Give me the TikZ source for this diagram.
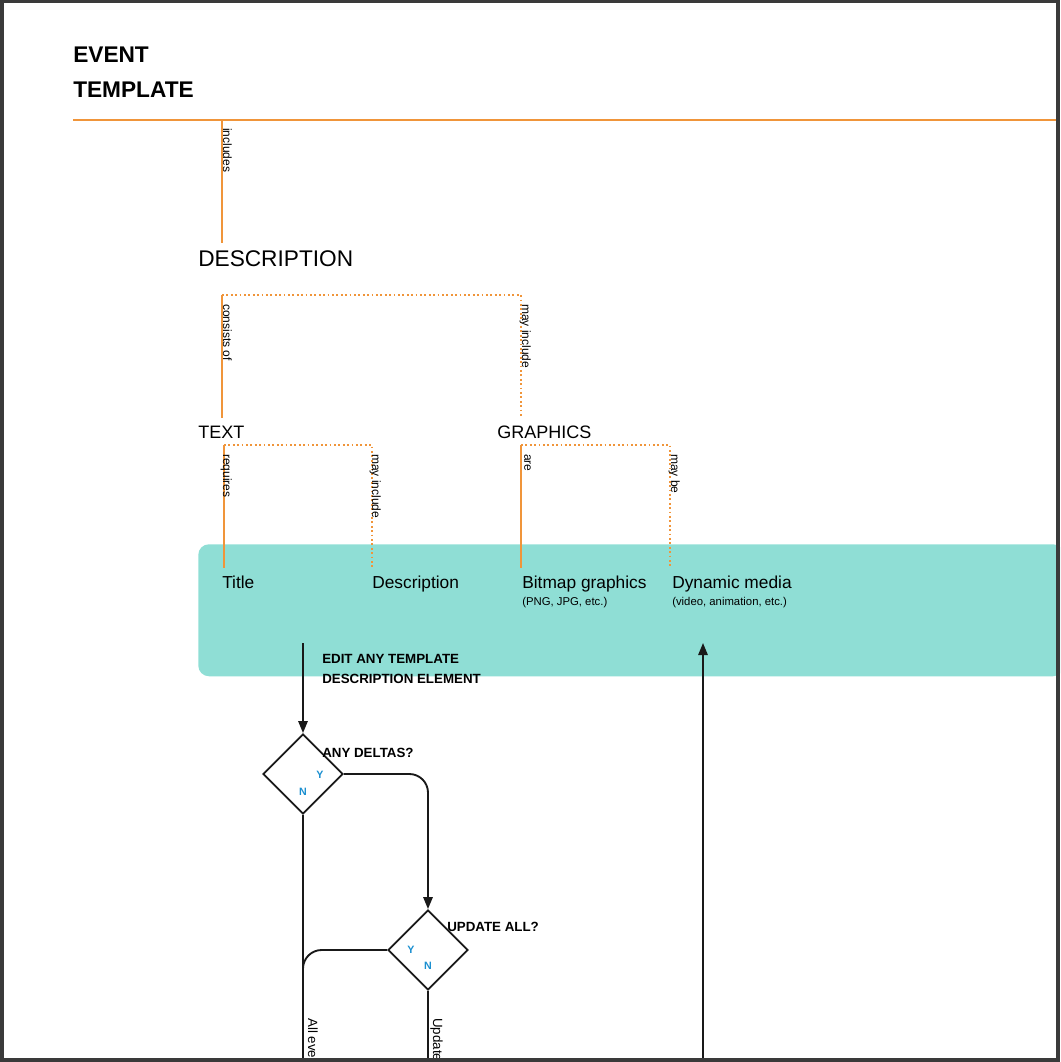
\documentclass[tikz,border=0pt]{standalone}
\usepackage{fontspec}
\setmainfont{Liberation Sans}
\usepackage{xcolor}
\usetikzlibrary{shapes.geometric,arrows.meta}
\definecolor{rule}{HTML}{F0953A}
\definecolor{teal}{HTML}{8FDED5}
\definecolor{yn}{HTML}{1A8FD0}
\definecolor{frame}{HTML}{3A3A3A}

\begin{document}
\begin{tikzpicture}[x=0.75pt,y=-0.75pt,
    link/.style={draw=rule, line width=1.5pt},
    maybe/.style={draw=rule, line width=1.3pt, dotted},
    verb/.style={rotate=-90, anchor=north west, font=\fontsize{9}{10}\selectfont, inner sep=0pt},
    big/.style={anchor=base west, inner sep=0pt, font=\fontsize{17}{20}\selectfont},
    mid/.style={anchor=base west, inner sep=0pt, font=\fontsize{13.5}{16}\selectfont},
    item/.style={anchor=base west, inner sep=0pt, font=\fontsize{13}{15}\selectfont},
    sub/.style={anchor=base west, inner sep=0pt, font=\fontsize{8.5}{10}\selectfont},
    todo/.style={anchor=base west, inner sep=0pt, font=\bfseries\fontsize{10}{15}\selectfont, align=left},
    flow/.style={draw=black!90, line width=1.4pt, rounded corners=14},
    decide/.style={diamond, draw=black!90, line width=1.4pt, fill=white, minimum width=60, minimum height=60, inner sep=0pt},
    yes/.style={font=\bfseries\fontsize{8}{9}\selectfont, text=yn, inner sep=0pt},
    tip/.style={-{Triangle[length=9pt,width=7pt]}}]
\useasboundingbox (0,0) rectangle (1060,1062);
\begin{scope}
\clip (0,0) rectangle (1060,1062);

% Header
\node[anchor=base west, inner sep=0pt, font=\bfseries\fontsize{17}{20}\selectfont] (ev) at (73,63) {EVENT};
\node[anchor=base west, inner sep=0pt, font=\bfseries\fontsize{17}{20}\selectfont] (tp) at (73,98) {TEMPLATE};
\coordinate (hl) at (73,120);
\coordinate (hr) at (1060,120);
\draw[link] (hl) -- (hr);

% Description
\coordinate (inc) at (222,120);
\node[big] (desc) at (198,267) {DESCRIPTION};
\coordinate (descb) at (222,243);
\draw[link] (inc) -- (descb);
\node[verb] at (232,128) {includes};

% Text / graphics
\node[mid] (text) at (198,438) {TEXT};
\node[mid] (gfx) at (497,438) {GRAPHICS};
\coordinate (c1) at (222,295);
\coordinate (c2) at (521,295);
\draw[link] (c1) -- (222,418);
\draw[maybe] (c1) -- (c2) -- (521,418);
\node[verb] at (232,304) {consists of};
\node[verb] at (531,304) {may include};

% Elements box
\node[draw=none, fill=teal, rounded corners=8, minimum width=649, minimum height=99, anchor=north west, inner sep=0pt] (box) at (198,544) {};
\coordinate (t1) at (224,445);
\coordinate (t2) at (372,445);
\coordinate (g1) at (521,445);
\coordinate (g2) at (670,445);
\draw[link] (t1) -- (224,568);
\draw[maybe] (t1) -- (t2) -- (372,568);
\draw[link] (g1) -- (521,568);
\draw[maybe] (g1) -- (g2) -- (670,568);
\node[verb] at (232,454) {requires};
\node[verb] at (381,454) {may include};
\node[verb] at (531,454) {are};
\node[verb] at (680,454) {may be};

\node[item] (title) at (222,588) {Title};
\node[item] (dsc) at (372,588) {Description};
\node[item] (bmp) at (522,588) {Bitmap graphics};
\node[sub] at (522,605) {(PNG, JPG, etc.)};
\node[item] (dyn) at (672,588) {Dynamic media};
\node[sub] at (672,605) {(video, animation, etc.)};

% Flow
\node[decide] (d1) at (303,774) {};
\node[decide] (d2) at (428,950) {};
\node[todo] at (322,683) {EDIT ANY TEMPLATE\\DESCRIPTION ELEMENT};
\node[todo] at (322,757) {ANY DELTAS?};
\node[todo] at (447,931) {UPDATE ALL?};
\node[yes] at (320,775) {Y};
\node[yes] at (303,792) {N};
\node[yes] at (411,950) {Y};
\node[yes] at (428,966) {N};

\coordinate (boxl) at (303,643);
\draw[flow, tip] (boxl) -- (d1.north);
\draw[flow, tip] (d1.east) -- (428,774) -- (d2.north);
\draw[flow] (d2.west) -- (303,950) -- (303,1000);
\draw[flow] (d1.south) -- (303,1070);
\draw[flow] (d2.south) -- (428,1070);
\coordinate (back) at (703,1070);
\draw[flow, tip] (back) -- (703,643);
\node[verb, font=\fontsize{10}{12}\selectfont] at (318,1018) {All events};
\node[verb, font=\fontsize{10}{12}\selectfont] at (443,1018) {Update this event};
\end{scope}

% Frame
\draw[frame, line width=3pt] (1.5,1) rectangle (1058,1059.5);
\end{tikzpicture}
\end{document}
